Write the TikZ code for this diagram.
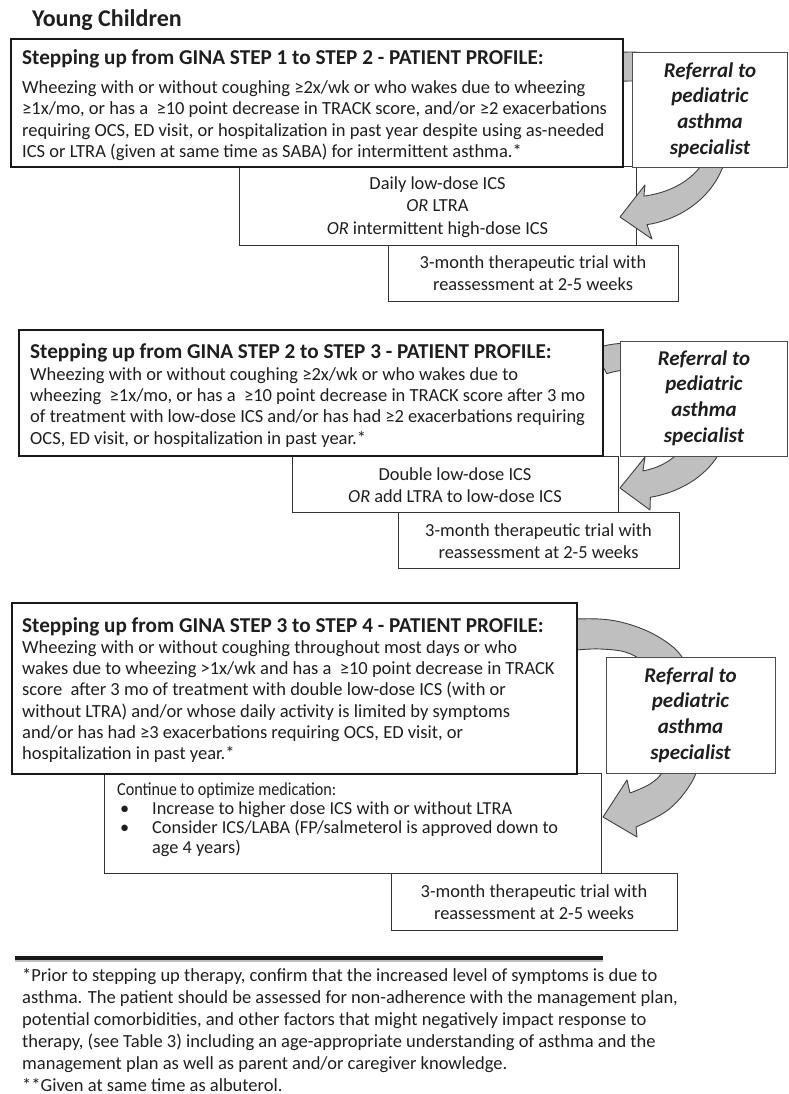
\documentclass[tikz,border=0pt]{standalone}
\usepackage{fontspec}
\usepackage{graphicx}
\setmainfont{Carlito}
\begin{document}
\begin{tikzpicture}[x=1pt,y=-1pt,
  prof/.style={draw=black!90, line width=1.8pt, fill=white, anchor=north west, inner sep=0},
  refbox/.style={draw=black!70, line width=1pt, fill=white, anchor=north west, inner sep=0},
  tbox/.style={draw=black!80, line width=0.9pt, fill=white, anchor=north west, inner sep=0},
  body/.style={anchor=north west, inner sep=0, align=left, text=black!88, font=\fontsize{18.5}{21.3}\selectfont},
  head/.style={anchor=base west, inner sep=0, text=black!88, font=\bfseries\fontsize{21.2}{25}\selectfont},
  reftxt/.style={anchor=north, align=center, inner sep=0, text=black!88, font=\bfseries\itshape\fontsize{21}{25.7}\selectfont},
  ctr/.style={anchor=north, align=center, inner sep=0, text=black!88, font=\fontsize{18.4}{22.3}\selectfont},
  blockarrow/.style={fill=black!25, draw=black!75, line width=0.9pt, line join=round}
]
\useasboundingbox (0,0) rectangle (788,1094);

% ---------- title
\node[anchor=base west, inner sep=0, text=black!88, font=\bfseries\fontsize{24}{28}\selectfont] (title) at (32,27) {Young Children};

% ---------- section 1
\node[tbox, minimum width=397pt, minimum height=79pt] (t1) at (239,166) {};
\node[tbox, minimum width=290pt, minimum height=56pt] (tr1) at (388,245) {};
\draw[blockarrow]
  plot[domain=110:-80, samples=60] ({630+98*cos(\x)},{139-87*sin(\x)})
  -- (652,239) -- (620,217) -- (645,185)
  -- plot[domain=-80:110, samples=60] ({630+80*cos(\x)},{139-58*sin(\x)}) -- cycle;
\node[prof, minimum width=612pt, minimum height=128pt] (p1) at (10,38) {};
\node[refbox, minimum width=155pt, minimum height=115pt] (r1) at (632,52) {};

\node[head] (p1h) at (22,65) {Stepping up from GINA STEP 1 to STEP 2 - PATIENT PROFILE:};
\node[body] (p1b) at (22,78.4) {\strut Wheezing with or without coughing ≥2x/wk or who wakes due to wheezing\\
≥1x/mo, or has a~ ≥10 point decrease in TRACK score, and/or ≥2 exacerbations\\
requiring OCS, ED visit, or hospitalization in past year despite using as-needed\\
ICS or LTRA (given at same time as SABA) for intermittent asthma.*};
\node[reftxt] (r1t) at (710,59) {\strut Referral to\\pediatric\\asthma\\specialist};
\node[ctr] (t1t) at (437.5,173.7) {\strut Daily low-dose ICS\\\textit{OR} LTRA\\\textit{OR} intermittent high-dose ICS};
\node[ctr] (tr1t) at (533,252.7) {\strut 3-month therapeutic trial with\\reassessment at 2-5 weeks};

% ---------- section 2
\node[tbox, minimum width=326pt, minimum height=56pt] (t2) at (292,456) {};
\node[tbox, minimum width=281pt, minimum height=56pt] (tr2) at (398,512) {};
\draw[blockarrow]
  plot[domain=112:-78, samples=60] ({630+98*cos(\x)},{421-78*sin(\x)})
  -- (650,510) -- (620,488) -- (645,457)
  -- plot[domain=-78:112, samples=60] ({630+62*cos(\x)},{421-51*sin(\x)}) -- cycle;
\node[prof, minimum width=584pt, minimum height=126pt] (p2) at (18,329) {};
\node[refbox, minimum width=167pt, minimum height=115pt] (r2) at (620,341) {};

\node[head] (p2h) at (30,358) {Stepping up from GINA STEP 2 to STEP 3 - PATIENT PROFILE:};
\node[body] (p2b) at (30,365.1) {\strut Wheezing with or without coughing ≥2x/wk or who wakes due to\\
wheezing~ ≥1x/mo, or has a~ ≥10 point decrease in TRACK score after 3 mo\\
of treatment with low-dose ICS and/or has had ≥2 exacerbations requiring\\
OCS, ED visit, or hospitalization in past year.*};
\node[reftxt] (r2t) at (704,347) {\strut Referral to\\pediatric\\asthma\\specialist};
\node[ctr] (t2t) at (455,464.4) {\strut Double low-dose ICS\\\textit{OR} add LTRA to low-dose ICS};
\node[ctr] (tr2t) at (538.5,520.4) {\strut 3-month therapeutic trial with\\reassessment at 2-5 weeks};

% ---------- section 3
\node[tbox, minimum width=497pt, minimum height=100pt] (t3) at (104,773) {};
\node[tbox, minimum width=286pt, minimum height=57pt] (tr3) at (391,873) {};
\draw[blockarrow]
  plot[smooth, tension=0.6] coordinates {(540,622) (576,619) (610,620) (640,628) (665,641) (682,657) (700,690) (706,725) (700,760) (690,785) (668,810) (636,827)}
  -- (637,837) -- (603,817) -- (627,780)
  -- plot[smooth, tension=0.6] coordinates {(630,793) (650,784) (663,771) (668,748) (666,715) (656,682) (643,662) (625,652) (600,649) (576,650) (545,653)} -- cycle;
\node[prof, minimum width=565pt, minimum height=171pt] (p3) at (11,602) {};
\node[refbox, minimum width=169pt, minimum height=116pt] (r3) at (606,657) {};

\node[head] (p3h) at (22,632) {Stepping up from GINA STEP 3 to STEP 4 - PATIENT PROFILE:};
\node[body] (p3b) at (22,638.1) {\strut Wheezing with or without coughing throughout most days or who\\
wakes due to wheezing >1x/wk and has a~ ≥10 point decrease in TRACK\\
score~ after 3 mo of treatment with double low-dose ICS (with or\\
without LTRA) and/or whose daily activity is limited by symptoms\\
and/or has had ≥3 exacerbations requiring OCS, ED visit, or\\
hospitalization in past year.*};
\node[reftxt] (r3t) at (690.5,664) {\strut Referral to\\pediatric\\asthma\\specialist};
\node[anchor=base west, inner sep=0, text=black!88, font=\fontsize{18.3}{19.3}\selectfont] (t3h) at (117,795) {\scalebox{0.885}[1]{Continue to optimize medication:}};
\node[body, font=\fontsize{18.3}{19.3}\selectfont] (t3t) at (117,800.8) {\strut
\hspace*{3pt}\makebox[32pt][l]{•}Increase to higher dose ICS with or without LTRA\\
\hspace*{3pt}\makebox[32pt][l]{•}Consider ICS/LABA (FP/salmeterol is approved down to\\
\hspace*{35pt}age 4 years)};
\node[ctr] (tr3t) at (534,881.4) {\strut 3-month therapeutic trial with\\reassessment at 2-5 weeks};

% ---------- footnote
\coordinate (ruleA) at (15,958);
\coordinate (ruleB) at (603,958);
\draw[line width=2pt, black!25] ([yshift=-2.5pt]ruleA) -- ([yshift=-2.5pt]ruleB);
\draw[line width=3.2pt, black!90] (ruleA) -- (ruleB);
\node[body, font=\fontsize{18.5}{22}\selectfont] (fn) at (22,965.6) {\strut *Prior to stepping up therapy, confirm that the increased level of symptoms is due to\\
asthma. The patient should be assessed for non-adherence with the management plan,\\
potential comorbidities, and other factors that might negatively impact response to\\
therapy, (see Table 3) including an age-appropriate understanding of asthma and the\\
management plan as well as parent and/or caregiver knowledge.\\
**Given at same time as albuterol.};
\end{tikzpicture}
\end{document}
